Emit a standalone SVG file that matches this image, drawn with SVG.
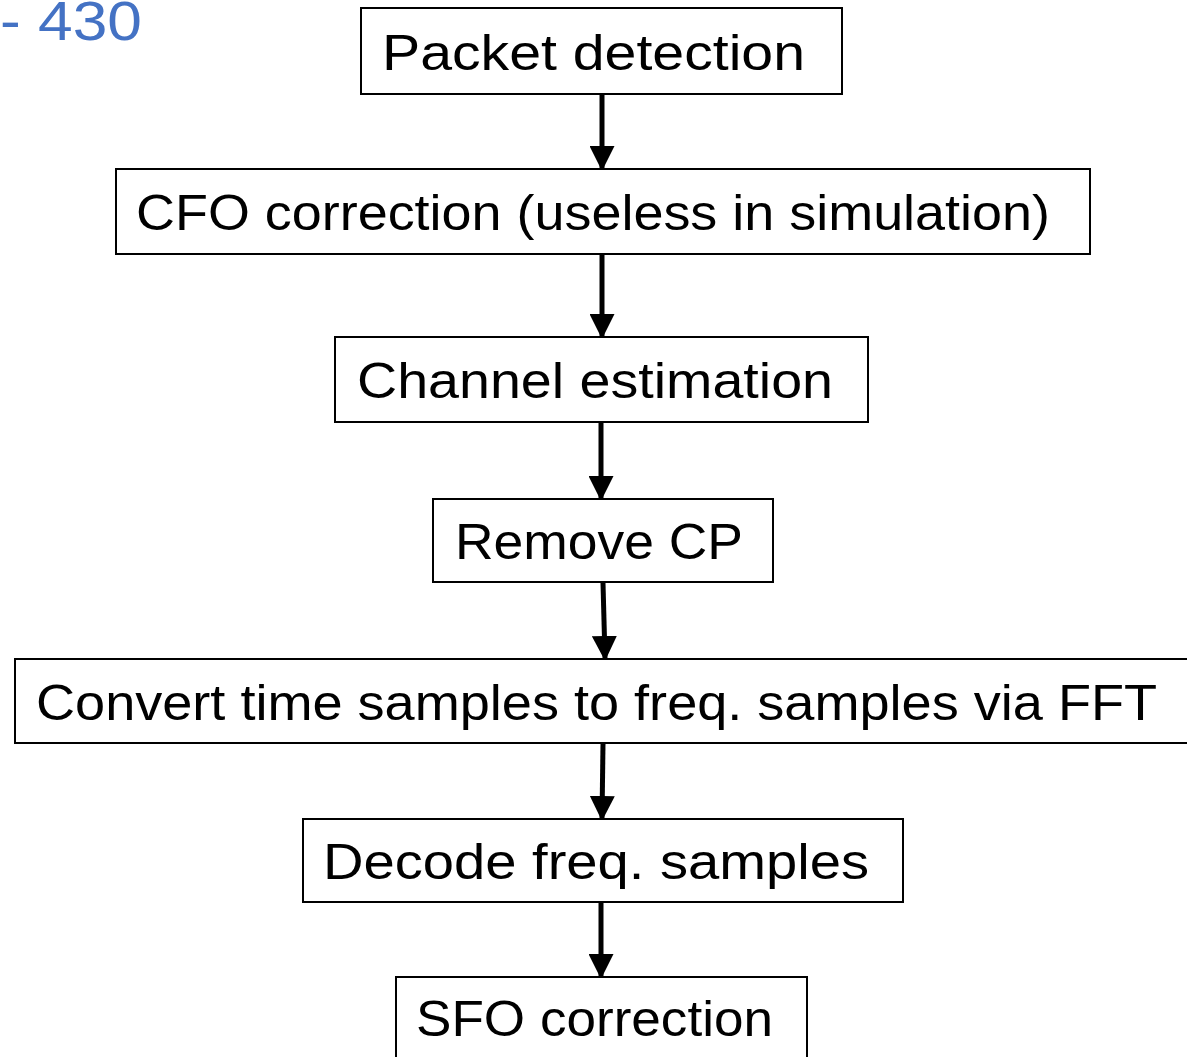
<svg xmlns="http://www.w3.org/2000/svg" width="1187" height="1057" viewBox="0 0 1187 1057">
<style>
.box{fill:#fff;stroke:#000;stroke-width:2}
.t{font-family:"Liberation Sans","DejaVu Sans",sans-serif;font-size:50px;fill:#000}
.c{stroke:#000;stroke-width:5;fill:none}
</style>
<defs>
<marker id="ah" markerWidth="5" markerHeight="5" refX="4.4" refY="2.5" orient="auto" markerUnits="strokeWidth" viewBox="0 0 5 5"><path d="M0,0 L5,2.5 L0,5 Z" fill="#000"/></marker>
</defs>
<rect width="1187" height="1057" fill="#fff"/>
<text x="0" y="40" font-family="Liberation Sans,sans-serif" font-size="56" fill="#4472C4" textLength="142" lengthAdjust="spacingAndGlyphs">- 430</text>
<g id="connectors">
<line class="c" x1="602" y1="95" x2="602" y2="168" marker-end="url(#ah)"/>
<line class="c" x1="602" y1="255" x2="602" y2="336" marker-end="url(#ah)"/>
<line class="c" x1="601" y1="423" x2="601" y2="498" marker-end="url(#ah)"/>
<line class="c" x1="603" y1="583" x2="605" y2="658" marker-end="url(#ah)"/>
<line class="c" x1="603" y1="744" x2="602" y2="818" marker-end="url(#ah)"/>
<line class="c" x1="601" y1="903" x2="601" y2="976" marker-end="url(#ah)"/>
</g>
<g id="n1"><rect class="box" x="361" y="8" width="481" height="86"/><text class="t" x="382" y="70" textLength="423" lengthAdjust="spacingAndGlyphs">Packet detection</text></g>
<g id="n2"><rect class="box" x="116" y="169" width="974" height="85"/><text class="t" x="136" y="230" textLength="914" lengthAdjust="spacingAndGlyphs">CFO correction  (useless in simulation)</text></g>
<g id="n3"><rect class="box" x="335" y="337" width="533" height="85"/><text class="t" x="357" y="398" textLength="476" lengthAdjust="spacingAndGlyphs">Channel estimation</text></g>
<g id="n4"><rect class="box" x="433" y="499" width="340" height="83"/><text class="t" x="455" y="559" textLength="288" lengthAdjust="spacingAndGlyphs">Remove CP</text></g>
<g id="n5"><rect class="box" x="15" y="659" width="1180" height="84"/><text class="t" x="36" y="720" textLength="1121" lengthAdjust="spacingAndGlyphs">Convert  time samples to freq. samples via FFT</text></g>
<g id="n6"><rect class="box" x="303" y="819" width="600" height="83"/><text class="t" x="323" y="879" textLength="546" lengthAdjust="spacingAndGlyphs">Decode  freq. samples</text></g>
<g id="n7"><rect class="box" x="396" y="977" width="411" height="90"/><text class="t" x="416" y="1036" textLength="357" lengthAdjust="spacingAndGlyphs">SFO correction</text></g>
</svg>
